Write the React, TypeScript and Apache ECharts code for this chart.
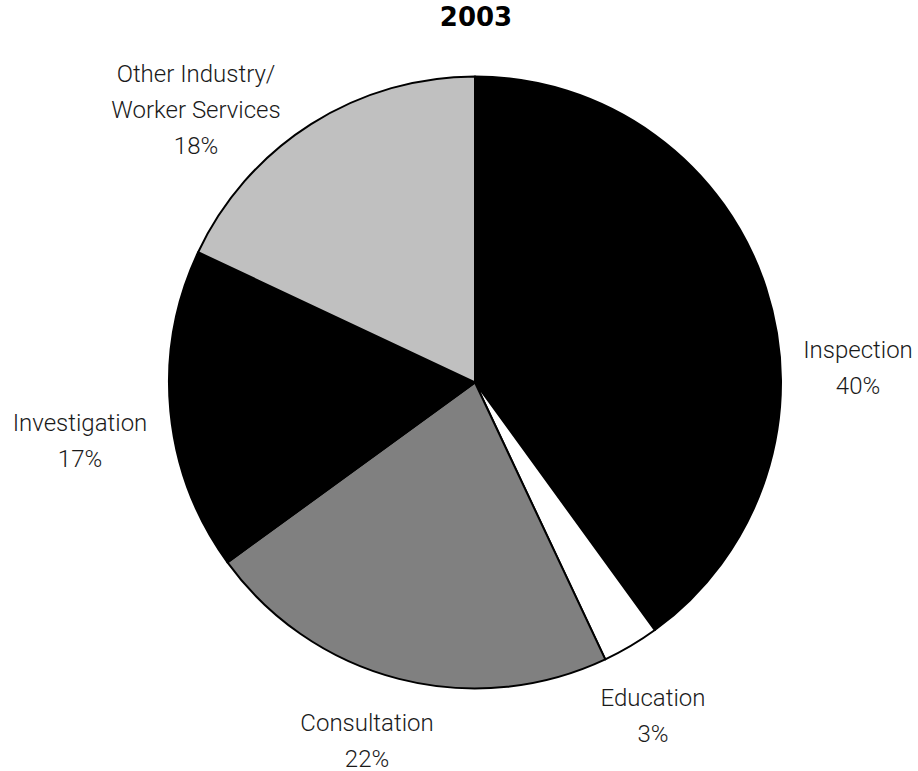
import React, { useEffect, useRef } from "react";
import * as echarts from "echarts";

const titleText = "2003";
const categories = [
  "Inspection",
  "Education",
  "Consultation",
  "Investigation",
  "Other Industry/\nWorker Services",
];
const values = [40, 3, 22, 17, 18];
const sliceColors = ["#000000", "#ffffff", "#808080", "#000000", "#c0c0c0"];
// label block centres, relative to the pie centre (px)
const labelOffsets: [number, number][] = [
  [383, -15],
  [178, 333],
  [-108, 358],
  [-395, 58],
  [-279, -273],
];

const CX = 475;
const CY = 382.5;
const R = 306;

export default function App() {
  const ref = useRef<HTMLDivElement>(null);
  useEffect(() => {
    if (!ref.current) return;
    const chart = echarts.init(ref.current, undefined, { renderer: "svg" });
    const total = values.reduce((a, b) => a + b, 0);
    chart.setOption({
      animation: false,
      backgroundColor: "#ffffff",
      title: {
        text: titleText,
        left: 476,
        top: 4,
        textAlign: "center",
        padding: 0,
        textStyle: {
          fontFamily: "DejaVu Sans",
          fontWeight: "bold",
          fontSize: 26,
          color: "#000000",
        },
      },
      series: [
        {
          type: "pie",
          center: [CX, CY],
          radius: R,
          startAngle: 90,
          clockwise: true,
          avoidLabelOverlap: false,
          itemStyle: { borderColor: "#000000", borderWidth: 2 },
          emphasis: { disabled: true },
          label: {
            show: true,
            position: "outside",
            formatter: (p: any) =>
              `${p.name}\n${Math.round((p.value / total) * 100)}%`,
            fontFamily: "Roboto",
            fontWeight: 300,
            fontSize: 24,
            lineHeight: 36,
            color: "#1a1a1a",
            align: "center",
          },
          labelLine: { show: false },
          labelLayout: (params: any) => {
            const off = labelOffsets[params.dataIndex];
            return {
              x: CX + off[0],
              y: CY + off[1],
              align: "center",
              verticalAlign: "middle",
            };
          },
          data: categories.map((name, i) => ({
            name,
            value: values[i],
            itemStyle: { color: sliceColors[i] },
          })),
        },
      ],
    });
    return () => chart.dispose();
  }, []);
  return (
    <div
      ref={ref}
      style={{ position: "absolute", left: 0, top: 0, width: 918, height: 771 }}
    />
  );
}
